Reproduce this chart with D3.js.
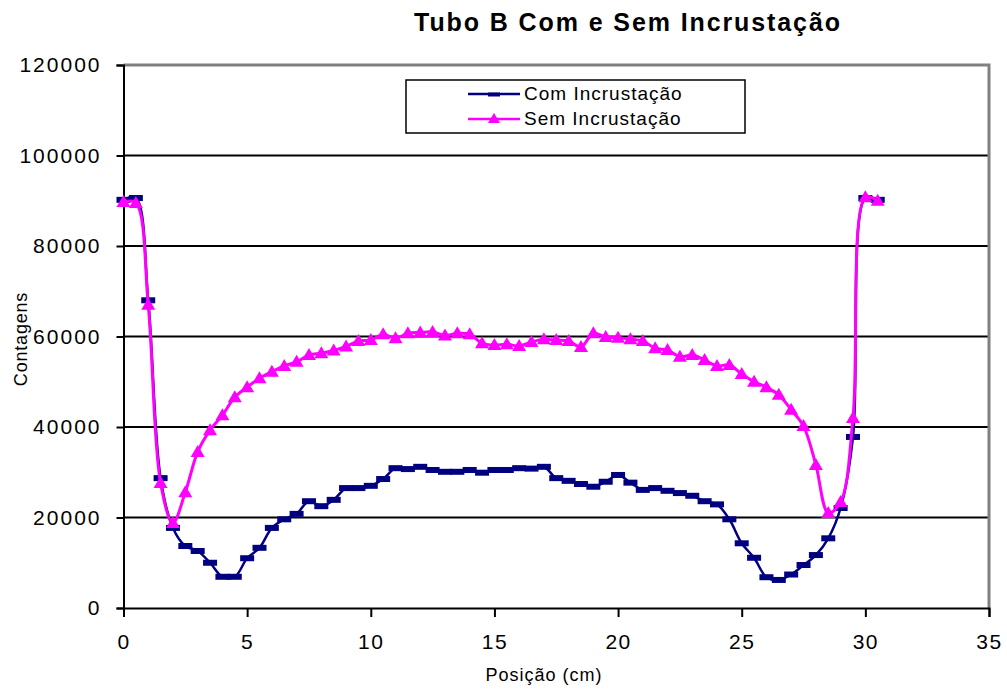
<!DOCTYPE html>
<html>
<head>
<meta charset="utf-8">
<script src="https://cdn.jsdelivr.net/npm/d3@7"></script>
<style>
  html, body { margin: 0; padding: 0; background: #fff; }
  svg { display: block; font-family: Arial, "Liberation Sans", sans-serif; }
</style>
</head>
<body>
<svg id="chart" width="1007" height="690"></svg>
<script>
// Positions along the tube (cm), sampled every 0.5 cm
const positions = d3.range(0, 31, 0.5);

// Counts with scale (Com Incrustação)
const comIncrustacao = [
  90200, 90600, 68000, 28700, 17700, 13700, 12600, 10000, 6900, 6900,
  11000, 13300, 17700, 19600, 20800, 23600, 22500, 23900, 26500, 26500,
  27000, 28500, 30900, 30700, 31200, 30500, 30100, 30100, 30500, 29900,
  30500, 30500, 30900, 30800, 31200, 28700, 28100, 27400, 26800, 27900,
  29400, 27700, 26100, 26500, 25900, 25400, 24800, 23600, 22900, 19600,
  14300, 11100, 6800, 6200, 7400, 9500, 11700, 15400, 22100, 37800,
  90600, 90200
];

// Counts without scale (Sem Incrustação)
const semIncrustacao = [
  89700, 89500, 67000, 27600, 18800, 25600, 34500, 39300, 42600, 46600,
  48800, 50800, 52200, 53500, 54400, 55900, 56300, 56900, 57800, 59000,
  59200, 60500, 59600, 60700, 60900, 61000, 60200, 60700, 60500, 58500,
  58100, 58300, 57900, 58800, 59400, 59200, 59000, 57700, 60700, 59900,
  59700, 59400, 59000, 57400, 57000, 55500, 55900, 54800, 53500, 53700,
  51700, 50000, 48800, 47100, 43800, 40200, 31600, 21000, 23400, 42000,
  90800, 90000
];

const xTicks = [0, 5, 10, 15, 20, 25, 30, 35];
const yTicks = [0, 20000, 40000, 60000, 80000, 100000, 120000];

const titleText = "Tubo B Com e Sem Incrustação";
const xTitle = "Posição (cm)";
const yTitle = "Contagens";
const seriesNames = ["Com Incrustação", "Sem Incrustação"];

const svg = d3.select("#chart");
const plotLeft = 123.5, plotRight = 989, plotTop = 65, plotBottom = 608;

const x = d3.scaleLinear().domain([0, 35]).range([plotLeft, plotRight]);
const y = d3.scaleLinear().domain([0, 120000]).range([plotBottom, plotTop]);

// Title
svg.append("text")
  .attr("x", 628).attr("y", 31)
  .attr("text-anchor", "middle")
  .attr("font-size", 25).attr("font-weight", "bold")
  .attr("letter-spacing", 1.9)
  .text(titleText);

// Horizontal gridlines
svg.append("g")
  .selectAll("line")
  .data(yTicks.filter(d => d > 0 && d < 120000))
  .join("line")
  .attr("x1", plotLeft).attr("x2", plotRight)
  .attr("y1", d => y(d)).attr("y2", d => y(d))
  .attr("stroke", "#000").attr("stroke-width", 2);

// Plot frame (top and right)
svg.append("path")
  .attr("d", `M${plotLeft},${plotTop}H${plotRight}V${plotBottom}`)
  .attr("fill", "none").attr("stroke", "#808080").attr("stroke-width", 3);

// Y axis
const yAxis = svg.append("g")
  .attr("transform", `translate(${plotLeft},0)`)
  .call(d3.axisLeft(y).tickValues(yTicks).tickSize(7).tickPadding(15).tickFormat(d3.format("d")));
yAxis.select(".domain").attr("stroke", "#000").attr("stroke-width", 2);
yAxis.selectAll(".tick line").attr("stroke", "#000").attr("stroke-width", 2);
yAxis.selectAll(".tick text")
  .attr("font-size", 21).attr("letter-spacing", 2)
  .attr("font-family", "Arial, 'Liberation Sans', sans-serif").attr("fill", "#000");

// X axis
const xAxis = svg.append("g")
  .attr("transform", `translate(0,${plotBottom})`)
  .call(d3.axisBottom(x).tickValues(xTicks).tickSize(9).tickPadding(17));
xAxis.select(".domain").attr("stroke", "#000").attr("stroke-width", 2);
xAxis.selectAll(".tick line").attr("stroke", "#000").attr("stroke-width", 2);
xAxis.selectAll(".tick text")
  .attr("font-size", 21).attr("letter-spacing", 1.5)
  .attr("font-family", "Arial, 'Liberation Sans', sans-serif").attr("fill", "#000");

// Axis titles
svg.append("text")
  .attr("x", 544).attr("y", 681)
  .attr("text-anchor", "middle").attr("font-size", 18).attr("letter-spacing", 1)
  .text(xTitle);
svg.append("text")
  .attr("transform", "translate(27,339) rotate(-90)")
  .attr("text-anchor", "middle").attr("font-size", 18).attr("letter-spacing", 0.8)
  .text(yTitle);

const line = d3.line()
  .x((d, i) => x(positions[i]))
  .y(d => y(d))
  .curve(d3.curveCatmullRom.alpha(0.5));

const navy = "#000080", pink = "#ff00ff";
const triPath = "M0,-7L7,5L-7,5Z";

// Com Incrustação series
svg.append("path")
  .datum(comIncrustacao)
  .attr("d", line)
  .attr("fill", "none").attr("stroke", navy).attr("stroke-width", 2.5);
svg.append("g")
  .selectAll("rect")
  .data(comIncrustacao)
  .join("rect")
  .attr("x", (d, i) => x(positions[i]) - 7)
  .attr("y", d => y(d) - 3)
  .attr("width", 14).attr("height", 6)
  .attr("fill", navy);

// Sem Incrustação series
svg.append("path")
  .datum(semIncrustacao)
  .attr("d", line)
  .attr("fill", "none").attr("stroke", pink).attr("stroke-width", 3);
svg.append("g")
  .selectAll("path")
  .data(semIncrustacao)
  .join("path")
  .attr("d", triPath)
  .attr("transform", (d, i) => `translate(${x(positions[i])},${y(d)})`)
  .attr("fill", pink);

// Legend
const legend = svg.append("g");
legend.append("rect")
  .attr("x", 406).attr("y", 80).attr("width", 339).attr("height", 53)
  .attr("fill", "#fff").attr("stroke", "#000").attr("stroke-width", 1.5);
const rows = [
  { name: seriesNames[0], color: navy, cy: 94 },
  { name: seriesNames[1], color: pink, cy: 119 }
];
rows.forEach((r, k) => {
  legend.append("line")
    .attr("x1", 468).attr("x2", 520).attr("y1", r.cy).attr("y2", r.cy)
    .attr("stroke", r.color).attr("stroke-width", 2.5);
  if (k === 0) {
    legend.append("rect").attr("x", 488).attr("y", r.cy - 1.5)
      .attr("width", 12).attr("height", 4).attr("fill", r.color);
  } else {
    legend.append("path").attr("d", "M0,-6L6,4L-6,4Z")
      .attr("transform", `translate(494,${r.cy})`).attr("fill", r.color);
  }
  legend.append("text")
    .attr("x", 524).attr("y", r.cy + 6)
    .attr("font-size", 19).attr("letter-spacing", 1)
    .text(r.name);
});
</script>
</body>
</html>
